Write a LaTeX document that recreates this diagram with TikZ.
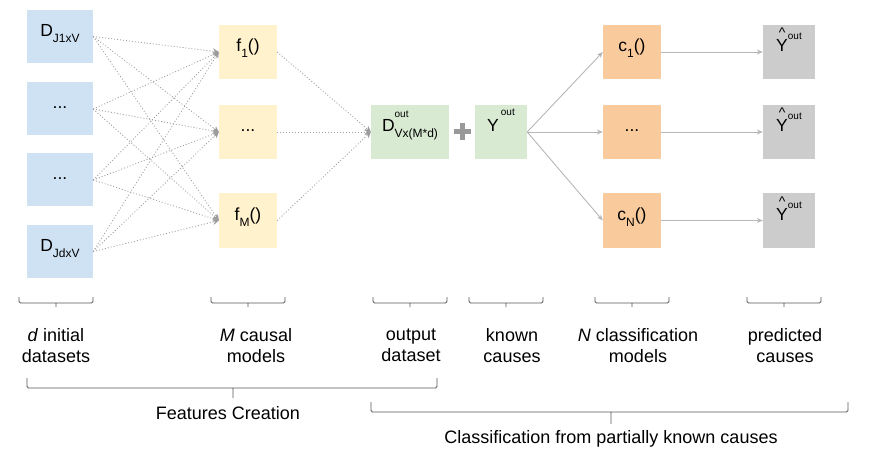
\documentclass[tikz,border=0pt]{standalone}
\usepackage{fontspec}
\setmainfont{Liberation Sans}
\usetikzlibrary{arrows.meta,calc}
\definecolor{setblue}{HTML}{CFE2F3}
\definecolor{modelyellow}{HTML}{FFF2CC}
\definecolor{outgreen}{HTML}{D9EAD3}
\definecolor{classorange}{HTML}{F9CB9C}
\definecolor{predgray}{HTML}{CCCCCC}
\definecolor{arrowgray}{HTML}{B7B7B7}
\definecolor{bracketgray}{HTML}{595959}
\newcommand{\lo}[1]{\raisebox{-6pt}{\fontsize{12}{12}\selectfont #1}}
\newcommand{\hi}[2]{\raisebox{#1}{\fontsize{10}{10}\selectfont #2}}
\newcommand{\yhat}{\ooalign{Y\cr\hidewidth\raisebox{14pt}{\fontsize{14}{14}\selectfont\textasciicircum}\hidewidth\cr}}
\tikzset{box/.style={
    inner sep=0pt,
    text height=0pt,
    text depth=0pt,
    minimum height=54pt,
    font=\fontsize{17.5}{20}\selectfont},
  dataset/.style={box, fill=setblue, minimum width=66pt, minimum height=53pt},
  model/.style={box, fill=modelyellow, minimum width=58pt},
  output/.style={box, fill=outgreen, minimum width=78pt},
  known/.style={box, fill=outgreen, minimum width=52pt},
  classifier/.style={box, fill=classorange, minimum width=58pt},
  predicted/.style={box, fill=predgray, minimum width=52pt},
  dotarrow/.style={
    draw=arrowgray!85!black,
    line width=0.8pt,
    dash pattern=on 1pt off 2pt,
    -{Stealth[length=6pt,width=6pt]}},
  solidarrow/.style={
    draw=arrowgray,
    line width=0.9pt,
    -{Stealth[length=6pt,width=5pt]}},
  bracket/.style={draw=bracketgray, line width=0.8pt, rounded corners=1.5pt},
  caption/.style={align=center, inner sep=0pt, font=\fontsize{18}{21}\selectfont}}

\begin{document}
\begin{tikzpicture}[x=1pt,y=-1pt]
\useasboundingbox (0,0) rectangle (874,462);

\node[dataset] (d1) at (60,36.5) {D\lo{J1xV}};
\node[dataset] (d2) at (60,109) {...};
\node[dataset] (d3) at (60,180) {...};
\node[dataset] (d4) at (60,251.5) {D\lo{JdxV}};

\node[model] (f1) at (248,52) {f\lo{1}()};
\node[model] (f2) at (248,132) {...};
\node[model] (f3) at (248,220.5) {f\lo{M}()};

\node[output] (dout) at (410,132) {D\rlap{\hi{14pt}{out}}\lo{Vx(M*d)}};
\node[known] (yout) at (501,132) {Y\kern2pt\hi{16pt}{out}};

\node[classifier] (c1) at (632,52) {c\lo{1}()};
\node[classifier] (c2) at (632,132) {...};
\node[classifier] (c3) at (632,220.5) {c\lo{N}()};

\node[predicted] (yhat1) at (789,52) {\yhat\hi{12pt}{out}};
\node[predicted] (yhat2) at (789,132) {\yhat\hi{12pt}{out}};
\node[predicted] (yhat3) at (789,220.5) {\yhat\hi{12pt}{out}};

\foreach \a in {d1,d2,d3,d4}
  \foreach \b in {f1,f2,f3}
    \path[dotarrow] (\a.east) -- (\b.west);
\foreach \b in {f1,f2,f3}
  \path[dotarrow] (\b.east) -- (dout.west);

\foreach \i in {1,2,3} {
  \path[solidarrow] (yout.east) -- (c\i.west);
  \path[solidarrow] (c\i.east) -- (yhat\i.west);
}

% plus between the two green boxes
\draw[draw=black!40, line width=5pt] (454,132) -- (471,132) (462.5,123.5) -- (462.5,140.5);

% small brackets
\foreach \l/\r in {19/93, 211/285, 373/447, 469/543, 595/669, 747/821}
  \path[bracket] (\l,297) -- (\l,303) -- (\r,303) -- (\r,297)
    ($(\l,303)!0.5!(\r,303)$) -- ++(0,4);

\node[caption] (lbldata) at (56,345.5) {\textit{d} initial\\datasets};
\node[caption] (lblmodels) at (256,345.5) {\textit{M} causal\\models};
\node[caption] (lbloutput) at (411,345.5) {output\\dataset};
\node[caption] (lblknown) at (512,345.5) {known\\causes};
\node[caption] (lblclass) at (638,345.5) {\textit{N} classification\\models};
\node[caption] (lblpred) at (785,345.5) {predicted\\causes};

% big brackets
\path[bracket] (27,378) -- (27,388) -- (437,388) -- (437,378) (233,388) -- (233,398);
\path[bracket] (371,402) -- (371,412) -- (848,412) -- (848,402) (611,412) -- (611,424);

\node[caption] (lblfeatures) at (228,413) {Features Creation};
\node[caption] (lblclassif) at (611,439) {Classification from partially known causes};

\end{tikzpicture}
\end{document}
